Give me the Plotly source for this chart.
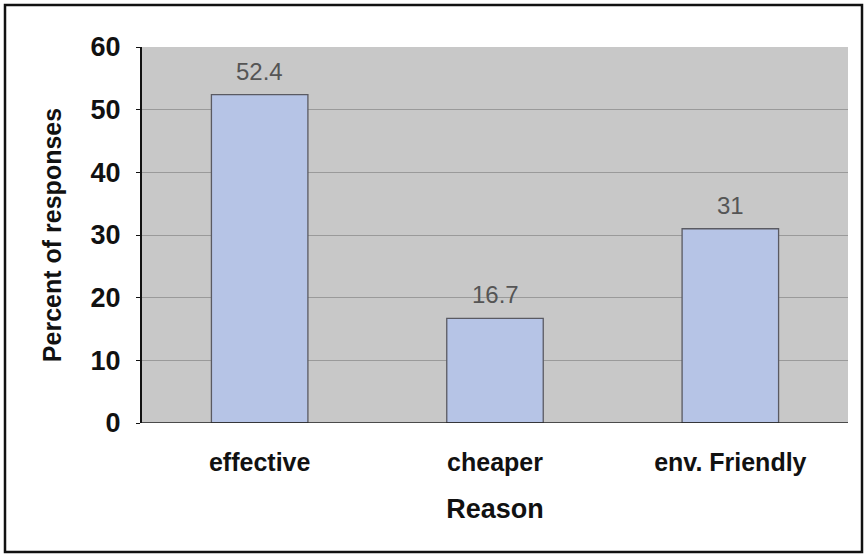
import plotly.graph_objects as go

reasons = ["effective", "cheaper", "env. Friendly"]
percent = [52.4, 16.7, 31]
value_labels = ["52.4", "16.7", "31"]
y_ticks = [0, 10, 20, 30, 40, 50, 60]

FONT = "Liberation Sans, Arial, sans-serif"

fig = go.Figure()
fig.add_trace(go.Bar(
    x=reasons,
    y=percent,
    width=0.41,
    marker=dict(color="#b6c4e6", line=dict(color="#5a5a62", width=1.3)),
    hoverinfo="skip",
))

# value labels above each bar
for r, v, t in zip(reasons, percent, value_labels):
    fig.add_annotation(
        x=r, y=v, text=t, showarrow=False, yanchor="bottom", yshift=8,
        font=dict(family=FONT, size=24, color="#555555"),
    )

fig.update_layout(
    width=865, height=554,
    margin=dict(l=142, r=17, t=47, b=131),
    paper_bgcolor="white",
    plot_bgcolor="#c8c8c8",
    showlegend=False,
    font=dict(family=FONT, color="#111111"),
    xaxis=dict(
        tickvals=reasons, ticktext=[f"<b>{r}</b>" for r in reasons],
        showgrid=False, showline=False, ticks="",
        tickfont=dict(size=25),
        ticklabelstandoff=22,
        title=dict(text="<b>Reason</b>", font=dict(size=27), standoff=24),
    ),
    yaxis=dict(
        range=[0, 60], tickvals=y_ticks,
        ticktext=[f"<b>{v}</b>" for v in y_ticks],
        showgrid=True, gridcolor="#9a9a9a", gridwidth=1,
        zeroline=False,
        showline=True, linecolor="#111111", linewidth=2,
        ticks="outside", ticklen=4, tickcolor="#111111",
        tickfont=dict(size=27),
        ticklabelstandoff=10,
        title=dict(text="<b>Percent of responses</b>", font=dict(size=25), standoff=22),
    ),
)

# bottom axis line of the plot area
fig.add_shape(type="line", xref="paper", yref="y", x0=0, x1=1, y0=0, y1=0,
              line=dict(color="#222222", width=1.5))

# outer frame around the whole chart
fig.add_shape(type="rect", xref="paper", yref="paper",
              x0=-137 / 706, x1=(862 - 142) / 706,
              y0=-(552 - 423) / 376, y1=(423 - 5) / 376,
              line=dict(color="#111111", width=2.5), layer="above")

fig.write_html("out.html")
